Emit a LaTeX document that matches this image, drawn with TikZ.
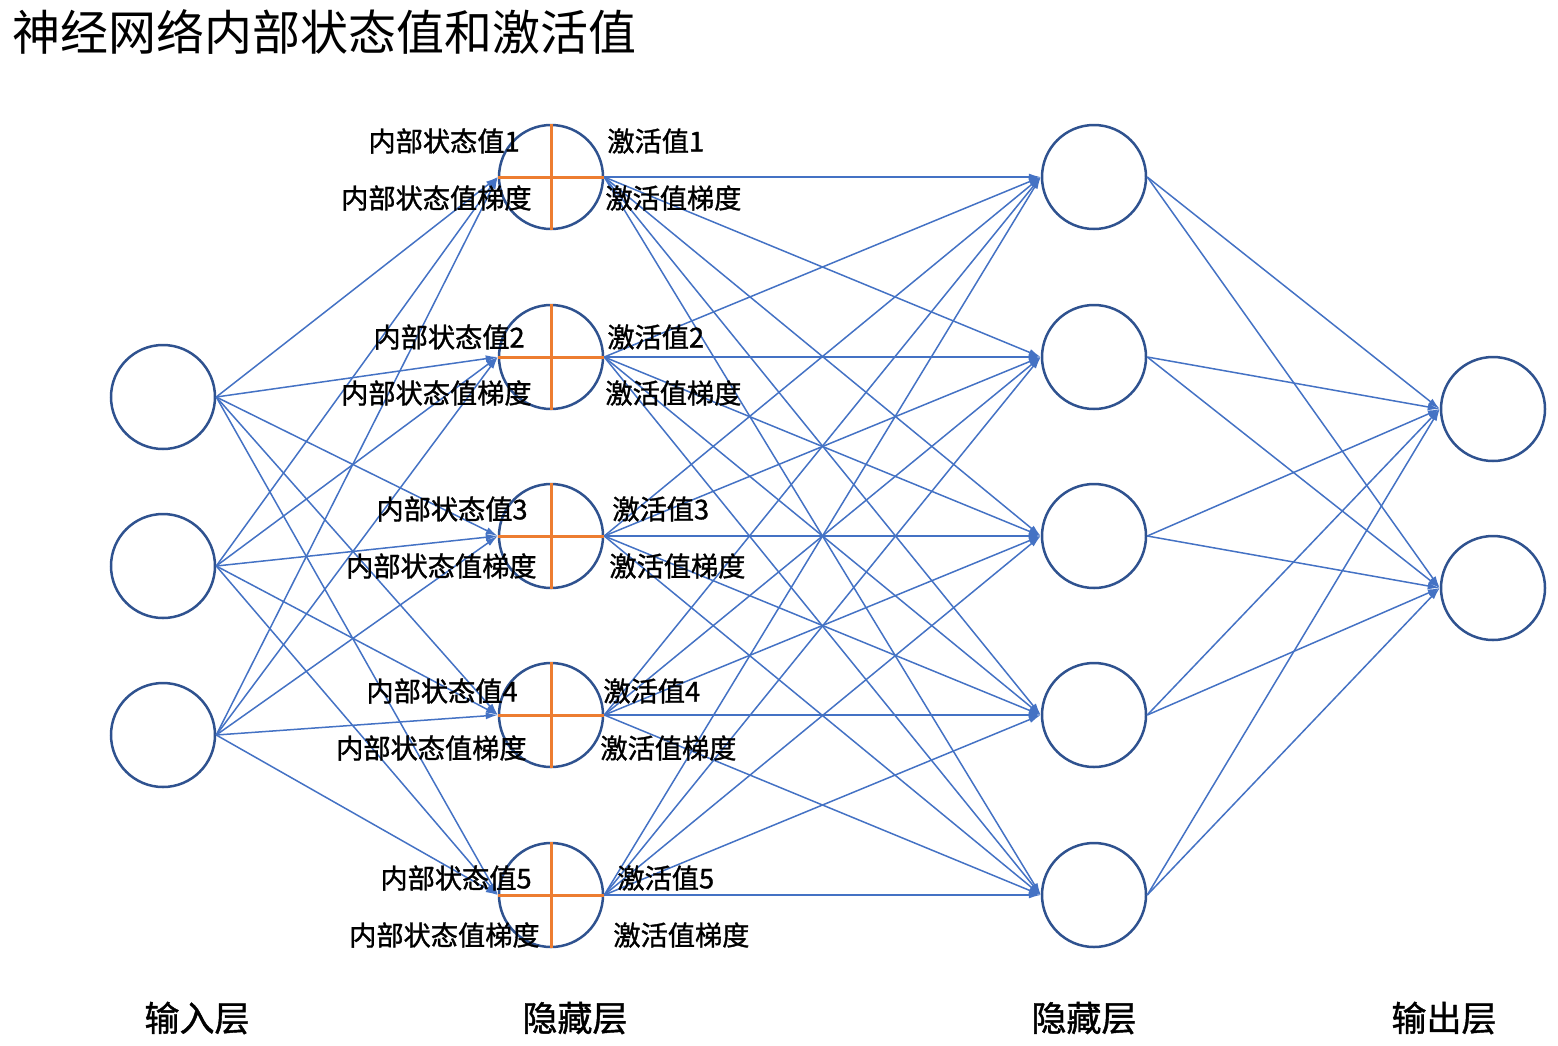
\documentclass[tikz,border=0pt]{standalone}
\usepackage{fontspec}
\newfontfamily\cjk{Noto Sans CJK SC}
\newfontfamily\cjkheavy{Noto Sans CJK SC}[FakeBold=1.2]
\usetikzlibrary{arrows.meta}
\definecolor{nodeblue}{HTML}{2F528F}
\definecolor{edgeblue}{HTML}{4472C4}
\definecolor{crossorange}{HTML}{ED7D31}
\tikzset{
  neuron/.style={circle, draw=nodeblue, line width=1.25pt, fill=white,
    minimum size=52pt, inner sep=0pt},
  link/.style={draw=edgeblue, line width=0.75pt, -{Latex[length=6pt,width=3.5pt]}},
  lbl/.style={font=\cjkheavy\fontsize{13.6}{15}\selectfont, inner sep=0pt},
  layername/.style={font=\cjkheavy\fontsize{17.5}{19}\selectfont, inner sep=0pt},
}

\begin{document}
\begin{tikzpicture}[x=0.5pt,y=-0.5pt]
  \useasboundingbox (0,0) rectangle (1558,1045);

  \node[font=\cjk\fontsize{24}{26}\selectfont, inner sep=0pt, anchor=west] (title) at (12,32) {神经网络内部状态值和激活值};

  % input layer
  \node[neuron] (in1) at (163,397) {};
  \node[neuron] (in2) at (163,566) {};
  \node[neuron] (in3) at (163,735) {};

  % two hidden layers
  \foreach \i/\y in {1/177,2/357,3/536,4/715,5/895} {
    \node[neuron] (ha\i) at (551,\y) {};
    \node[neuron] (hb\i) at (1094,\y) {};
  }

  % output layer
  \node[neuron] (out1) at (1493,409) {};
  \node[neuron] (out2) at (1493,588) {};

  % connections
  \foreach \a in {1,2,3}
    \foreach \b in {1,...,5}
      \draw[link] (in\a.east) -- (ha\b.west);
  \foreach \a in {1,...,5}
    \foreach \b in {1,...,5}
      \draw[link] (ha\a.east) -- (hb\b.west);
  \foreach \a in {1,...,5}
    \foreach \b in {1,2}
      \draw[link] (hb\a.east) -- (out\b.west);

  % split the first hidden layer
  \foreach \i in {1,...,5}
    \draw[crossorange, line width=1.5pt] (ha\i.north) -- (ha\i.south)
      (ha\i.west) -- (ha\i.east);

  % labels
  \foreach \i/\ty/\by/\lx/\lbx/\rx/\rbx in {
      1/141/198/520/532/607/605,
      2/337/393/525/532/607/605,
      3/509/566/528/537/612/609,
      4/691/748/518/527/603/600,
      5/878/935/532/540/617/613} {
    \node[lbl, anchor=east] (z\i) at (\lx,\ty) {内部状态值\i};
    \node[lbl, anchor=east] (zg\i) at (\lbx,\by) {内部状态值梯度};
    \node[lbl, anchor=west] (a\i) at (\rx,\ty) {激活值\i};
    \node[lbl, anchor=west] (ag\i) at (\rbx,\by) {激活值梯度};
  }

  \node[layername] (inname) at (197,1018) {输入层};
  \node[layername] (haname) at (575,1018) {隐藏层};
  \node[layername] (hbname) at (1084,1018) {隐藏层};
  \node[layername] (outname) at (1444,1018) {输出层};
\end{tikzpicture}
\end{document}
